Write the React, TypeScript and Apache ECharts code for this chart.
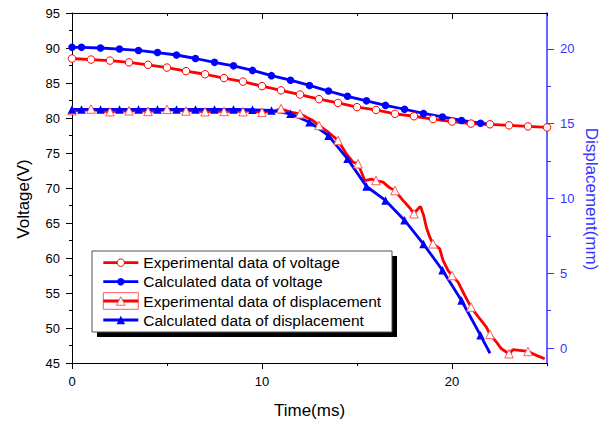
import React, { useEffect, useRef } from 'react';
import * as echarts from 'echarts';

const FONT = '"Liberation Sans", Arial, Helvetica, sans-serif';
const RED = '#ff0000';
const LIGHT_RED = '#ff5a5a';
const BLUE = '#0000ff';
const AXIS_BLUE = '#3535ff';

// Experimental voltage (hollow red circles), t in ms
const expVoltageTime = [0, 1, 2, 3, 4, 5, 6, 7, 8, 9, 10, 11, 12, 13, 14, 15, 16, 17, 18, 19, 20, 21, 22, 23, 24, 25];
const expVoltage = [88.5, 88.35, 88.2, 87.95, 87.6, 87.2, 86.7, 86.25, 85.7, 85.2, 84.55, 83.95, 83.35, 82.7, 82.15, 81.55, 81.15, 80.6, 80.25, 79.85, 79.5, 79.2, 79.1, 78.95, 78.8, 78.65];

// Calculated data (shared time base)
const calcTime = [0, 0.5, 1.5, 2.5, 3.5, 4.5, 5.5, 6.5, 7.5, 8.5, 9.5, 10.5, 11.5, 12.5, 13.5, 14.5, 15.5, 16.5, 17.5, 18.5, 19.5, 20.5, 21.5, 22];
const calcVoltage = [90.1, 90.1, 90.0, 89.85, 89.65, 89.35, 89.0, 88.5, 87.95, 87.45, 86.8, 86.05, 85.4, 84.65, 83.85, 83.1, 82.45, 81.8, 81.25, 80.65, 80.15, 79.65, 79.25, 79.1];
const calcDisplacement = [15.95, 15.95, 15.95, 15.95, 15.95, 15.95, 15.95, 15.95, 15.95, 15.95, 15.93, 15.88, 15.66, 15.1, 14.2, 12.65, 10.8, 9.87, 8.55, 6.95, 5.2, 3.18, 0.85, -0.35];

// Experimental displacement: marker points (hollow triangles) and the trace between them
const expDispMarkerTime = [0, 1, 2, 3, 4, 5, 6, 7, 8, 9, 10, 11, 12, 13, 14, 15.05, 16, 17, 18, 19, 20, 21, 22, 23, 24];
const expDispMarker = [15.88, 15.98, 15.8, 15.86, 15.82, 15.96, 15.85, 15.8, 15.82, 15.8, 15.77, 16.0, 15.66, 14.88, 13.88, 12.32, 11.2, 10.53, 8.98, 6.97, 4.85, 2.74, 0.91, -0.38, -0.23];
const expDispTraceTime = [0.5, 1.5, 2.5, 3.5, 4.5, 5.5, 6.5, 7.5, 8.5, 9.4, 10.5, 11.5, 12.34, 12.68, 13.49, 14.44, 14.79, 15.41, 15.76, 16.37, 16.72, 17.42, 17.77, 18.21, 18.34, 18.51, 18.65, 18.83, 19.35, 19.53, 19.79, 20.32, 20.67, 21.46, 21.81, 22.34, 22.6, 23.21, 23.56, 24.44, 24.88];
const expDispTrace = [15.86, 15.84, 15.83, 15.86, 15.84, 15.88, 15.84, 15.82, 15.84, 15.85, 15.8, 15.78, 15.43, 15.21, 14.43, 12.99, 12.43, 11.2, 11.29, 11.09, 10.71, 9.87, 9.38, 9.31, 9.47, 8.86, 8.08, 7.41, 6.64, 5.86, 5.19, 4.41, 3.52, 1.96, 1.4, 0.39, -0.05, -0.11, -0.16, -0.49, -0.72];

const xMajorTicks = [0, 10, 20];
const xTopMajorTicks = [10, 20];
const dispTickLabels = [0, 5, 10, 15, 20];
const dispMinorTicks = [2.5, 7.5, 12.5, 17.5];

const legendLabels = [
  'Experimental data of voltage',
  'Calculated data of voltage',
  'Experimental data of displacement',
  'Calculated data of displacement',
];

function tri(cx: number, cy: number, s: number) {
  return [
    [cx, cy - s / 2],
    [cx + s / 2, cy + s / 2],
    [cx - s / 2, cy + s / 2],
  ];
}

export default function App() {
  const ref = useRef<HTMLDivElement>(null);

  useEffect(() => {
    if (!ref.current) return;
    const chart = echarts.init(ref.current, undefined, { renderer: 'svg' });

    const expDispData: any[] = [];
    expDispMarkerTime.forEach((t, i) => expDispData.push({ value: [t, expDispMarker[i]] }));
    expDispTraceTime.forEach((t, i) => expDispData.push({ value: [t, expDispTrace[i]], symbol: 'none' }));
    expDispData.sort((a, b) => a.value[0] - b.value[0]);

    const lastIdx = calcTime.length - 1;
    const calcVData = calcTime.map((t, i) =>
      i === lastIdx ? { value: [t, calcVoltage[i]], symbol: 'none' } : { value: [t, calcVoltage[i]] }
    );
    const calcDData = calcTime.map((t, i) =>
      i === lastIdx ? { value: [t, calcDisplacement[i]], symbol: 'none' } : { value: [t, calcDisplacement[i]] }
    );

    const labelBase = { fontFamily: FONT, fontSize: 13, color: '#000' };

    const legendRows = [262.7, 281.7, 301, 320];
    const lx1 = 103.3;
    const lx2 = 138.3;
    const lsx = 120.8;
    const legendGraphics: any[] = [
      { type: 'rect', z: 100, shape: { x: 97, y: 256, width: 300, height: 81 }, style: { fill: '#000' } },
      { type: 'rect', z: 101, shape: { x: 92, y: 251, width: 300, height: 81 }, style: { fill: '#fff', stroke: '#555', lineWidth: 1 } },
      { type: 'rect', z: 102, shape: { x: lx1, y: 292.7, width: lx2 - lx1, height: 16.6 }, style: { fill: 'none', stroke: LIGHT_RED, lineWidth: 1 } },
    ];
    const lineColors = [RED, BLUE, RED, BLUE];
    legendRows.forEach((y, i) => {
      legendGraphics.push({ type: 'line', z: 103, shape: { x1: lx1, y1: y, x2: lx2, y2: y }, style: { stroke: lineColors[i], lineWidth: 2.8 } });
      legendGraphics.push({
        type: 'text', z: 103, x: 143.3, y: y,
        style: { text: legendLabels[i], font: `15.5px ${FONT}`, fill: '#000', align: 'left', verticalAlign: 'middle', textAlign: 'left', textVerticalAlign: 'middle' },
      });
    });
    legendGraphics.push({ type: 'circle', z: 104, shape: { cx: lsx, cy: legendRows[0], r: 3.7 }, style: { fill: '#fff', stroke: RED, lineWidth: 1 } });
    legendGraphics.push({ type: 'circle', z: 104, shape: { cx: lsx, cy: legendRows[1], r: 3.7 }, style: { fill: BLUE } });
    legendGraphics.push({ type: 'polygon', z: 104, shape: { points: tri(lsx, legendRows[2], 8.5) }, style: { fill: '#fff', stroke: LIGHT_RED, lineWidth: 1 } });
    legendGraphics.push({ type: 'polygon', z: 104, shape: { points: tri(lsx, legendRows[3], 8.5) }, style: { fill: BLUE } });

    const option: any = {
      animation: false,
      backgroundColor: '#fff',
      grid: { left: 72, right: 67, top: 13, bottom: 63, containLabel: false },
      xAxis: [
        {
          type: 'value', position: 'bottom', min: 0, max: 25, interval: 5,
          axisLine: { show: true, onZero: false, lineStyle: { color: '#000', width: 1 } },
          axisTick: { show: true, inside: false, length: 3, lineStyle: { color: '#000' } },
          axisLabel: { ...labelBase, margin: 12, customValues: xMajorTicks, formatter: (v: number) => String(v) },
          splitLine: { show: false },
        },
        {
          type: 'value', position: 'bottom', min: 0, max: 25, interval: 5,
          axisLine: { show: false, onZero: false },
          axisTick: { show: true, inside: false, length: 6, customValues: xMajorTicks, lineStyle: { color: '#000' } },
          axisLabel: { show: false },
          splitLine: { show: false },
        },
        {
          type: 'value', position: 'top', min: 0, max: 25, interval: 5,
          axisLine: { show: true, onZero: false, lineStyle: { color: '#000', width: 1 } },
          axisTick: { show: true, inside: true, length: 3, lineStyle: { color: '#000' } },
          axisLabel: { show: false },
          splitLine: { show: false },
        },
        {
          type: 'value', position: 'top', min: 0, max: 25, interval: 5,
          axisLine: { show: false, onZero: false },
          axisTick: { show: true, inside: true, length: 6, customValues: xTopMajorTicks, lineStyle: { color: '#000' } },
          axisLabel: { show: false },
          splitLine: { show: false },
        },
      ],
      yAxis: [
        {
          type: 'value', position: 'left', min: 45, max: 95, interval: 5,
          axisLine: { show: true, onZero: false, lineStyle: { color: '#000', width: 1 } },
          axisTick: { show: true, inside: false, length: 6, lineStyle: { color: '#000' } },
          minorTick: { show: true, splitNumber: 2, length: 3, lineStyle: { color: '#000' } },
          axisLabel: { ...labelBase, margin: 12 },
          splitLine: { show: false },
          minorSplitLine: { show: false },
        },
        {
          type: 'value', position: 'right', min: -1, max: 22.4,
          axisLine: { show: true, onZero: false, lineStyle: { color: AXIS_BLUE, width: 1.5 } },
          axisTick: { show: true, inside: false, length: 7, customValues: dispTickLabels, lineStyle: { color: AXIS_BLUE } },
          axisLabel: { ...labelBase, color: AXIS_BLUE, margin: 13, customValues: dispTickLabels },
          splitLine: { show: false },
        },
        {
          type: 'value', position: 'right', min: -1, max: 22.4,
          axisLine: { show: false, onZero: false },
          axisTick: { show: true, inside: false, length: 4, customValues: dispMinorTicks, lineStyle: { color: AXIS_BLUE } },
          axisLabel: { show: false },
          splitLine: { show: false },
        },
      ],
      series: [
        {
          name: legendLabels[0], type: 'line', xAxisIndex: 0, yAxisIndex: 0,
          data: expVoltageTime.map((t, i) => [t, expVoltage[i]]),
          symbol: 'circle', symbolSize: 7.5,
          itemStyle: { color: '#fff', borderColor: RED, borderWidth: 1 },
          lineStyle: { color: RED, width: 2.8 },
        },
        {
          name: legendLabels[1], type: 'line', xAxisIndex: 0, yAxisIndex: 0,
          data: calcVData,
          symbol: 'circle', symbolSize: 7.5,
          itemStyle: { color: BLUE },
          lineStyle: { color: BLUE, width: 2.8 },
        },
        {
          name: legendLabels[2], type: 'line', xAxisIndex: 0, yAxisIndex: 1,
          data: expDispData,
          symbol: 'triangle', symbolSize: 8.5,
          itemStyle: { color: '#fff', borderColor: LIGHT_RED, borderWidth: 1 },
          lineStyle: { color: RED, width: 2.8 },
        },
        {
          name: legendLabels[3], type: 'line', xAxisIndex: 0, yAxisIndex: 1,
          data: calcDData,
          symbol: 'triangle', symbolSize: 8.5,
          itemStyle: { color: BLUE },
          lineStyle: { color: BLUE, width: 2.8 },
        },
      ],
      graphic: [
        {
          type: 'text', x: 23.3, y: 199, rotation: Math.PI / 2,
          style: { text: 'Voltage(V)', font: `17px ${FONT}`, fill: '#000', align: 'center', verticalAlign: 'middle', textAlign: 'center', textVerticalAlign: 'middle' },
        },
        {
          type: 'text', x: 591.7, y: 199, rotation: -Math.PI / 2,
          style: { text: 'Displacement(mm)', font: `17px ${FONT}`, fill: AXIS_BLUE, align: 'center', verticalAlign: 'middle', textAlign: 'center', textVerticalAlign: 'middle' },
        },
        {
          type: 'text', x: 309.5, y: 410,
          style: { text: 'Time(ms)', font: `17px ${FONT}`, fill: '#000', align: 'center', verticalAlign: 'middle', textAlign: 'center', textVerticalAlign: 'middle' },
        },
        ...legendGraphics,
      ],
    };

    chart.setOption(option);
    return () => chart.dispose();
  }, []);

  return (
    <div
      ref={ref}
      style={{ position: 'fixed', left: 0, top: 0, width: 614, height: 426, background: '#fff' }}
    />
  );
}
